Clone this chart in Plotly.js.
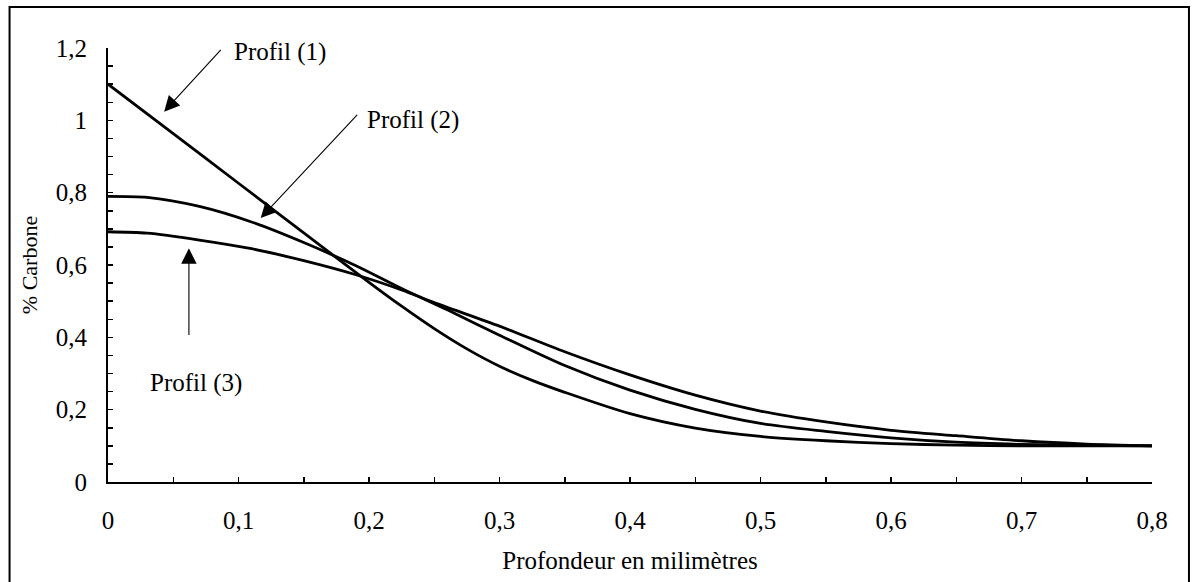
<!DOCTYPE html>
<html>
<head>
<meta charset="utf-8">
<script src="https://cdn.plot.ly/plotly-3.0.1.min.js"></script>
<style>html,body{margin:0;padding:0;background:#fff;}#chart{width:1193px;height:582px;}</style>
</head>
<body>
<div id="chart"></div>
<script>
// Profil (1)
var x1 = [0, 0.05, 0.10, 0.15, 0.20, 0.225, 0.25, 0.275, 0.30, 0.325, 0.35, 0.40, 0.45, 0.50, 0.55, 0.60, 0.65, 0.70, 0.75, 0.80];
var y1 = [1.10, 0.963, 0.826, 0.689, 0.552, 0.486, 0.424, 0.368, 0.320, 0.281, 0.248, 0.189, 0.149, 0.126, 0.114, 0.106, 0.102, 0.100, 0.100, 0.100];
// Profil (2)
var x2 = [0, 0.03, 0.07, 0.11, 0.15, 0.19, 0.225, 0.26, 0.30, 0.35, 0.40, 0.45, 0.50, 0.55, 0.60, 0.65, 0.70, 0.75, 0.80];
var y2 = [0.790, 0.787, 0.762, 0.719, 0.662, 0.598, 0.535, 0.476, 0.406, 0.322, 0.254, 0.201, 0.162, 0.140, 0.122, 0.110, 0.104, 0.101, 0.100];
// Profil (3)
var x3 = [0, 0.03, 0.07, 0.11, 0.15, 0.19, 0.225, 0.25, 0.30, 0.35, 0.40, 0.45, 0.50, 0.55, 0.60, 0.65, 0.70, 0.75, 0.80];
var y3 = [0.692, 0.688, 0.669, 0.645, 0.612, 0.573, 0.531, 0.496, 0.431, 0.360, 0.296, 0.240, 0.196, 0.166, 0.143, 0.128, 0.114, 0.105, 0.100];

var xTickVals = [0, 0.1, 0.2, 0.3, 0.4, 0.5, 0.6, 0.7, 0.8];
var xTickText = ['0', '0,1', '0,2', '0,3', '0,4', '0,5', '0,6', '0,7', '0,8'];
var yTickVals = [0, 0.2, 0.4, 0.6, 0.8, 1, 1.2];
var yTickText = ['0', '0,2', '0,4', '0,6', '0,8', '1', '1,2'];

var labels = ['Profil (1)', 'Profil (2)', 'Profil (3)'];
// label anchor points (data units) and arrow tip / tail points
var labelX = [0.095, 0.197, 0.031];
var labelY = [1.189, 1.000, 0.274];
var tipX = [0.043, 0.117, 0.062];
var tipY = [1.024, 0.730, 0.646];
var tailX = [0.0875, 0.192, 0.062];
var tailY = [1.199, 1.019, 0.402];

var FONT = 'Liberation Serif, Times New Roman, serif';
var lineStyle = {color: '#000', width: 2.8, shape: 'spline', smoothing: 0.8};

var traces = [
  {x: x1, y: y1, mode: 'lines', line: lineStyle, name: labels[0], hoverinfo: 'skip'},
  {x: x2, y: y2, mode: 'lines', line: lineStyle, name: labels[1], hoverinfo: 'skip'},
  {x: x3, y: y3, mode: 'lines', line: lineStyle, name: labels[2], hoverinfo: 'skip'}
];

var annotations = [];
for (var i = 0; i < labels.length; i++) {
  annotations.push({
    x: labelX[i], y: labelY[i], xref: 'x', yref: 'y',
    text: labels[i], showarrow: false, xanchor: 'left', yanchor: 'middle',
    font: {family: FONT, size: 25, color: '#000'}
  });
  annotations.push({
    x: tipX[i], y: tipY[i], xref: 'x', yref: 'y',
    ax: tailX[i], ay: tailY[i], axref: 'x', ayref: 'y',
    text: '', showarrow: true, arrowhead: 2, arrowsize: 2.8, arrowwidth: 1.1,
    arrowcolor: '#000', standoff: 0, startstandoff: 0
  });
}

var layout = {
  width: 1193, height: 582,
  margin: {l: 107.5, r: 41, t: 48, b: 100},
  paper_bgcolor: '#fff', plot_bgcolor: '#fff',
  showlegend: false,
  font: {family: FONT, size: 25, color: '#000'},
  xaxis: {
    range: [0, 0.8], tickvals: xTickVals, ticktext: xTickText,
    showgrid: false, zeroline: false, showline: true, linecolor: '#000', linewidth: 2,
    ticks: 'inside', ticklen: 5, tickwidth: 1.5, tickcolor: '#000',
    minor: {dtick: 0.05, tick0: 0, ticks: 'inside', ticklen: 5, tickwidth: 1.5, tickcolor: '#000'},
    tickfont: {family: FONT, size: 25, color: '#000'},
    ticklabelstandoff: 15,
    title: {text: 'Profondeur en milimètres', font: {family: FONT, size: 25, color: '#000'}, standoff: 18},
    automargin: false, fixedrange: true
  },
  yaxis: {
    range: [0, 1.2], tickvals: yTickVals, ticktext: yTickText,
    showgrid: false, zeroline: false, showline: true, linecolor: '#000', linewidth: 2,
    ticks: 'inside', ticklen: 5, tickwidth: 1.5, tickcolor: '#000',
    minor: {dtick: 0.05, tick0: 0, ticks: 'inside', ticklen: 5, tickwidth: 1.5, tickcolor: '#000'},
    tickfont: {family: FONT, size: 25, color: '#000'},
    ticklabelstandoff: 14,
    title: {text: '% Carbone', font: {family: FONT, size: 22, color: '#000'}, standoff: 12},
    automargin: false, fixedrange: true
  },
  annotations: annotations,
  shapes: [{
    type: 'rect', xref: 'paper', yref: 'paper',
    x0: -0.0943, x1: 1.0354, y0: -0.26, y1: 1.0945,
    line: {color: '#000', width: 2}, fillcolor: 'rgba(0,0,0,0)', layer: 'above'
  }]
};

Plotly.newPlot('chart', traces, layout, {staticPlot: true, displayModeBar: false});
</script>
</body>
</html>
